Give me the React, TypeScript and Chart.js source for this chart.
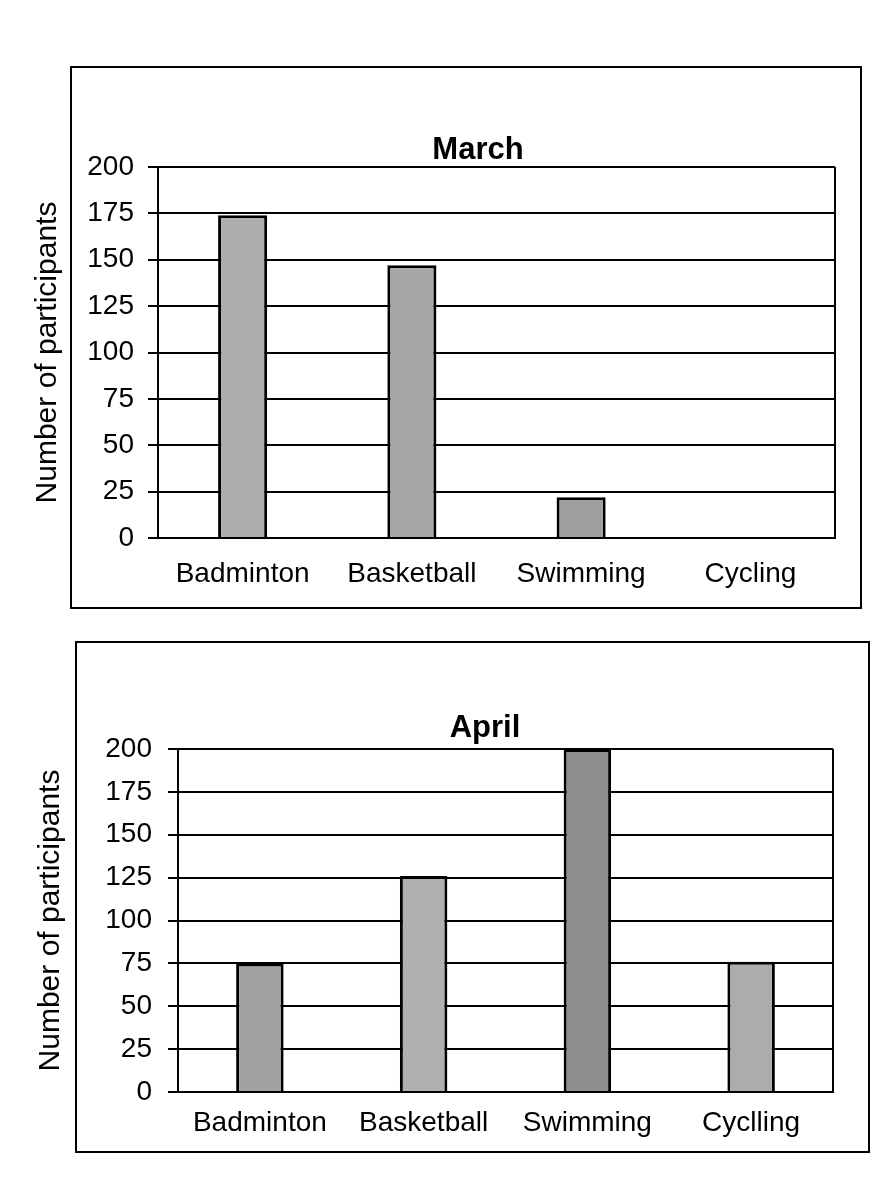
import React, { useEffect, useRef } from "react";
import { Chart, registerables } from "chart.js";

Chart.register(...registerables);

const marchCategories = ["Badminton", "Basketball", "Swimming", "Cycling"];
const marchValues = [174, 147, 22, 0];
const marchColors = ["#aeaeae", "#a6a6a6", "#9e9e9e", "#a6a6a6"];

const aprilCategories = ["Badminton", "Basketball", "Swimming", "Cyclling"];
const aprilValues = [75, 126, 200, 76];
const aprilColors = ["#a2a2a2", "#b0b0b0", "#8e8e8e", "#acacac"];

const yMin = 0;
const yMax = 200;
const yStep = 25;
const yTitle = "Number of participants";

const FONT = "'Liberation Sans', Arial, Helvetica, sans-serif";
const INK = "#000";

type Cfg = {
  title: string;
  categories: string[];
  values: number[];
  colors: string[];
  canvas: { left: number; top: number; width: number; height: number };
  box: { left: number; top: number; width: number; height: number };
  padRight: number;
  rightAxisWidth: number;
  yWidth: number;
  yTitlePad: number;
  yTickPad: number;
  titleTop: number;
  titleBottom: number;
  xHeight: number;
  xTickPad: number;
};

const edgePlugin = {
  id: "edgeLine",
  beforeDatasetsDraw(chart: any) {
    const { ctx, chartArea } = chart;
    ctx.save();
    ctx.strokeStyle = INK;
    ctx.lineWidth = 2;
    ctx.beginPath();
    ctx.moveTo(chartArea.right, chartArea.top);
    ctx.lineTo(chartArea.right, chartArea.bottom);
    ctx.stroke();
    ctx.restore();
  },
};

function BarPanel({ cfg }: { cfg: Cfg }) {
  const ref = useRef<HTMLCanvasElement | null>(null);
  useEffect(() => {
    if (!ref.current) return;
    const chart = new Chart(ref.current, {
      type: "bar",
      data: {
        labels: cfg.categories,
        datasets: [
          {
            data: cfg.values,
            yAxisID: "y",
            backgroundColor: cfg.colors,
            borderColor: INK,
            borderWidth: 3,
            barPercentage: 0.29,
            categoryPercentage: 1,
          },
        ],
      },
      options: {
        animation: false,
        responsive: false,
        maintainAspectRatio: false,
        devicePixelRatio: 1,
        layout: { padding: { left: 0, top: 0, bottom: 0, right: cfg.padRight } },
        plugins: {
          legend: { display: false },
          tooltip: { enabled: false },
          title: {
            display: true,
            text: cfg.title,
            color: INK,
            font: { family: FONT, size: 31, weight: "bold", lineHeight: 1 },
            padding: { top: cfg.titleTop, bottom: cfg.titleBottom },
          },
        },
        scales: {
          x: {
            grid: { display: false, drawTicks: false },
            border: { display: true, color: INK, width: 2 },
            ticks: {
              color: INK,
              padding: cfg.xTickPad,
              font: { family: FONT, size: 28 },
              maxRotation: 0,
              autoSkip: false,
            },
            afterFit: (s: any) => {
              s.height = cfg.xHeight;
            },
          },
          y: {
            position: "left",
            min: yMin,
            max: yMax,
            grid: {
              color: INK,
              lineWidth: 2,
              tickLength: 10,
              tickColor: INK,
              tickWidth: 2,
            },
            border: { display: true, color: INK, width: 2 },
            ticks: {
              stepSize: yStep,
              color: INK,
              padding: cfg.yTickPad,
              font: { family: FONT, size: 28 },
            },
            title: {
              display: true,
              text: yTitle,
              color: INK,
              font: { family: FONT, size: 30 },
              padding: { top: cfg.yTitlePad, bottom: 0 },
            },
            afterFit: (s: any) => {
              s.width = cfg.yWidth;
            },
          },
          // empty spacer axis on the right: lets the full-width title sit where the reference has it
          yRight: {
            position: "right",
            display: true,
            grid: { display: false, drawTicks: false },
            border: { display: false },
            ticks: { display: false },
            afterFit: (s: any) => {
              s.width = cfg.rightAxisWidth;
            },
          },
        },
      },
      plugins: [edgePlugin],
    } as any);
    return () => chart.destroy();
  }, [cfg]);

  return (
    <>
      <div
        style={{
          position: "absolute",
          left: cfg.box.left,
          top: cfg.box.top,
          width: cfg.box.width,
          height: cfg.box.height,
          border: "2px solid " + INK,
          boxSizing: "border-box",
          background: "#fff",
        }}
      />
      <canvas
        ref={ref}
        width={cfg.canvas.width}
        height={cfg.canvas.height}
        style={{
          position: "absolute",
          left: cfg.canvas.left,
          top: cfg.canvas.top,
          width: cfg.canvas.width,
          height: cfg.canvas.height,
        }}
      />
    </>
  );
}

const marchCfg: Cfg = {
  title: "March",
  categories: marchCategories,
  values: marchValues,
  colors: marchColors,
  canvas: { left: 20, top: 66, width: 850, height: 545 },
  box: { left: 70, top: 66, width: 792, height: 543 },
  padRight: -66,
  rightAxisWidth: 101,
  yWidth: 138,
  yTitlePad: 10,
  yTickPad: 14,
  titleTop: 68.5,
  titleBottom: 1.5,
  xHeight: 73,
  xTickPad: 19,
};

const aprilCfg: Cfg = {
  title: "April",
  categories: aprilCategories,
  values: aprilValues,
  colors: aprilColors,
  canvas: { left: 20, top: 641, width: 855, height: 514 },
  box: { left: 75, top: 641, width: 795, height: 512 },
  padRight: -75,
  rightAxisWidth: 117,
  yWidth: 158,
  yTitlePad: 13,
  yTickPad: 16,
  titleTop: 71.5,
  titleBottom: 5.5,
  xHeight: 63,
  xTickPad: 14,
};

export default function App() {
  return (
    <div style={{ position: "relative", width: 895, height: 1182, background: "#fff" }}>
      <div style={{ position: "absolute", left: -8, top: -8, width: 895, height: 1182 }}>
        <BarPanel cfg={marchCfg} />
        <BarPanel cfg={aprilCfg} />
      </div>
    </div>
  );
}
